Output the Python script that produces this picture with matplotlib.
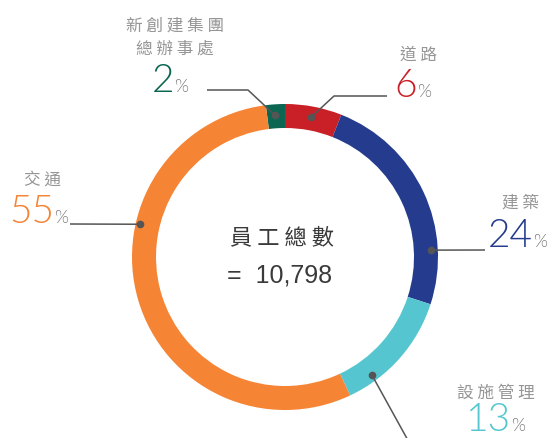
import numpy as np
import matplotlib
matplotlib.use('Agg')
import matplotlib.pyplot as plt

# data
labels = ['新創建集團\n總辦事處', '道路', '建築', '設施管理', '交通']
shares = [2, 6, 24, 13, 55]
colors = ['#0b6652', '#c91f27', '#253c8e', '#55c6cf', '#f58434']
total_label = '員工總數'
total_value = '=  10,798'

W, H = 553, 439
cx, cy = 285, H - 258
r_out, ring = 153, 24

cjk = ['Noto Sans CJK TC', 'DejaVu Sans']
num_font = ['Lato', 'DejaVu Sans']

fig = plt.figure(figsize=(W / 100, H / 100), dpi=100)
ax = fig.add_axes([0, 0, 1, 1])

# donut: first wedge starts 2% left of 12 o'clock and runs clockwise
ax.pie(shares, colors=colors, startangle=90 + shares[0] * 3.6, counterclock=False,
       center=(cx, cy), radius=r_out,
       wedgeprops=dict(width=ring, edgecolor='none', linewidth=0))
ax.set_xlim(0, W)
ax.set_ylim(0, H)
ax.set_aspect('equal')
ax.axis('off')

# leader lines: (angle clockwise from top, radius of dot, bends in pixel coords)
leaders = [
    (-4, 142, [(248, 91), (207, 91)]),
    (10.5, 142, [(334, 97), (387, 97)]),
    (87.3, 146, [(485, 251)]),
    (143.6, 146, [(410, 445)]),
    (282.7, 149, [(70, 225)]),
]
for ang, r, pts in leaders:
    a = np.deg2rad(ang)
    x0 = cx + r * np.sin(a)
    y0 = cy + r * np.cos(a)
    xs = [x0] + [p[0] for p in pts]
    ys = [y0] + [H - p[1] for p in pts]
    ax.plot(xs, ys, color='#555555', lw=1.1, solid_capstyle='butt')
    ax.plot(x0, y0, 'o', color='#555555', ms=4.5)

gray = '#969696'
spaced = ['\n'.join(' '.join(part) for part in l.split('\n')) for l in labels]
# category text centre, number right edge + baseline
lab_pos = [(175, 38), (418, 55), (521, 203), (496, 393), (42, 180)]
num_pos = [(174, 92), (417, 97), (533, 247), (511, 431), (54, 223)]
for i in range(len(shares)):
    lx, ly = lab_pos[i]
    ax.text(lx, H - ly, spaced[i], ha='center', va='center', fontsize=12,
            color=gray, family=cjk, fontweight='light', linespacing=1.45)
    nx, nb = num_pos[i]
    ax.text(nx, H - nb, str(shares[i]), ha='right', va='baseline', fontsize=28,
            color=colors[i], family=num_font, fontweight=300)
    ax.text(nx, H - nb, '%', ha='left', va='baseline', fontsize=13,
            color='#7a7a7a', family=num_font, fontweight=300)

ax.text(282, H - 238, ' '.join(total_label), ha='center', va='center', fontsize=16,
        color='#3a3a3a', family=cjk, fontweight='light')
ax.text(280, H - 275, total_value, ha='center', va='center', fontsize=18,
        color='#3a3a3a', family=['Liberation Sans', 'DejaVu Sans'])

plt.savefig('out.png', dpi=100)
